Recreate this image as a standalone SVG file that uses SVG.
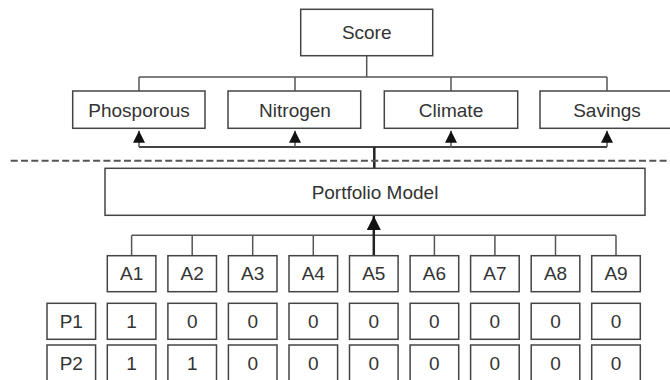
<svg xmlns="http://www.w3.org/2000/svg" width="670" height="380" viewBox="0 0 670 380">
<style>
.box{fill:#fff;stroke:#444;stroke-width:1.5}
.t{font-family:"Liberation Sans",Arial,sans-serif;font-size:19px;fill:#333;text-anchor:middle}
.c{fill:none;stroke:#555;stroke-width:1.5}
.k{fill:none;stroke:#222;stroke-width:2.5}
</style>
<defs>
<marker id="ah" markerUnits="userSpaceOnUse" markerWidth="12" markerHeight="12" refX="11" refY="5.5" orient="auto" viewBox="0 0 11 11"><path d="M0,0 L11,5.5 L0,11 z" fill="#111"/></marker>
<marker id="ahk" markerUnits="userSpaceOnUse" markerWidth="14" markerHeight="14" refX="13" refY="6.5" orient="auto" viewBox="0 0 13 13"><path d="M0,0 L13,6.5 L0,13 z" fill="#111"/></marker>
</defs>
<rect width="670" height="380" fill="#fff"/>
<g id="connectors">
<path class="c" d="M366.7,55.7 V77 M139,77 H607 M139,77 V91 M295,77 V91 M451,77 V91 M607,77 V91"/>
<path class="c" d="M139,147 H607" style="stroke:#444;stroke-width:2"/>
<path class="c" d="M139,147 V130.7" marker-end="url(#ah)"/>
<path class="c" d="M295,147 V130.7" marker-end="url(#ah)"/>
<path class="c" d="M451,147 V130.7" marker-end="url(#ah)"/>
<path class="c" d="M607,147 V130.7" marker-end="url(#ah)"/>
<path class="k" d="M374.3,168.3 V147"/>
<line x1="10.7" y1="160.7" x2="670" y2="160.7" stroke="#555" stroke-width="2" stroke-dasharray="7 3.3"/>
<path class="c" d="M131.6,235.3 H616 M131.6,235.3 V255.7 M192.2,235.3 V255.7 M252.7,235.3 V255.7 M313.3,235.3 V255.7 M434.4,235.3 V255.7 M494.9,235.3 V255.7 M555.5,235.3 V255.7 M616,235.3 V255.7"/>
<path class="k" d="M373.8,255.7 V216" marker-end="url(#ahk)"/>
</g>
<g id="score"><rect class="box" x="300.7" y="9.3" width="132" height="46.4"/><text class="t" x="366.7" y="39.3">Score</text></g>
<g id="phosporous"><rect class="box" x="72.7" y="91" width="132.3" height="37.3"/><text class="t" x="139" y="116.5">Phosporous</text></g>
<g id="nitrogen"><rect class="box" x="228" y="91" width="132.7" height="37.3"/><text class="t" x="295" y="116.5">Nitrogen</text></g>
<g id="climate"><rect class="box" x="384.3" y="91" width="133.4" height="37.3"/><text class="t" x="451" y="116.5">Climate</text></g>
<g id="savings"><rect class="box" x="540" y="91" width="133.4" height="37.3"/><text class="t" x="607" y="116.5">Savings</text></g>
<g id="portfolio"><rect class="box" x="105" y="168.3" width="540" height="47"/><text class="t" x="375" y="198.6">Portfolio Model</text></g>
<g id="A1"><rect class="box" x="107.3" y="255.7" width="48.6" height="36"/><text class="t" x="131.6" y="280.3">A1</text></g>
<g id="A2"><rect class="box" x="167.9" y="255.7" width="48.6" height="36"/><text class="t" x="192.2" y="280.3">A2</text></g>
<g id="A3"><rect class="box" x="228.4" y="255.7" width="48.6" height="36"/><text class="t" x="252.7" y="280.3">A3</text></g>
<g id="A4"><rect class="box" x="289" y="255.7" width="48.6" height="36"/><text class="t" x="313.3" y="280.3">A4</text></g>
<g id="A5"><rect class="box" x="349.5" y="255.7" width="48.6" height="36"/><text class="t" x="373.8" y="280.3">A5</text></g>
<g id="A6"><rect class="box" x="410.1" y="255.7" width="48.6" height="36"/><text class="t" x="434.4" y="280.3">A6</text></g>
<g id="A7"><rect class="box" x="470.6" y="255.7" width="48.6" height="36"/><text class="t" x="494.9" y="280.3">A7</text></g>
<g id="A8"><rect class="box" x="531.2" y="255.7" width="48.6" height="36"/><text class="t" x="555.5" y="280.3">A8</text></g>
<g id="A9"><rect class="box" x="591.7" y="255.7" width="48.6" height="36"/><text class="t" x="616" y="280.3">A9</text></g>
<g id="P1">
<rect class="box" x="47" y="303.3" width="48.6" height="36"/><text class="t" x="71.3" y="328">P1</text>
<rect class="box" x="107.3" y="303.3" width="48.6" height="36"/><text class="t" x="131.6" y="328">1</text>
<rect class="box" x="167.9" y="303.3" width="48.6" height="36"/><text class="t" x="192.2" y="328">0</text>
<rect class="box" x="228.4" y="303.3" width="48.6" height="36"/><text class="t" x="252.7" y="328">0</text>
<rect class="box" x="289" y="303.3" width="48.6" height="36"/><text class="t" x="313.3" y="328">0</text>
<rect class="box" x="349.5" y="303.3" width="48.6" height="36"/><text class="t" x="373.8" y="328">0</text>
<rect class="box" x="410.1" y="303.3" width="48.6" height="36"/><text class="t" x="434.4" y="328">0</text>
<rect class="box" x="470.6" y="303.3" width="48.6" height="36"/><text class="t" x="494.9" y="328">0</text>
<rect class="box" x="531.2" y="303.3" width="48.6" height="36"/><text class="t" x="555.5" y="328">0</text>
<rect class="box" x="591.7" y="303.3" width="48.6" height="36"/><text class="t" x="616" y="328">0</text>
</g>
<g id="P2">
<rect class="box" x="47" y="345" width="48.6" height="37"/><text class="t" x="71.3" y="369.5">P2</text>
<rect class="box" x="107.3" y="345" width="48.6" height="37"/><text class="t" x="131.6" y="369.5">1</text>
<rect class="box" x="167.9" y="345" width="48.6" height="37"/><text class="t" x="192.2" y="369.5">1</text>
<rect class="box" x="228.4" y="345" width="48.6" height="37"/><text class="t" x="252.7" y="369.5">0</text>
<rect class="box" x="289" y="345" width="48.6" height="37"/><text class="t" x="313.3" y="369.5">0</text>
<rect class="box" x="349.5" y="345" width="48.6" height="37"/><text class="t" x="373.8" y="369.5">0</text>
<rect class="box" x="410.1" y="345" width="48.6" height="37"/><text class="t" x="434.4" y="369.5">0</text>
<rect class="box" x="470.6" y="345" width="48.6" height="37"/><text class="t" x="494.9" y="369.5">0</text>
<rect class="box" x="531.2" y="345" width="48.6" height="37"/><text class="t" x="555.5" y="369.5">0</text>
<rect class="box" x="591.7" y="345" width="48.6" height="37"/><text class="t" x="616" y="369.5">0</text>
</g>
</svg>
